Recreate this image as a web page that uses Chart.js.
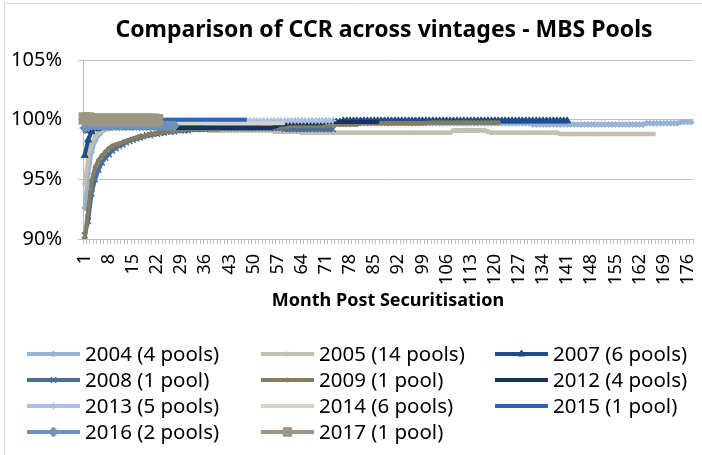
<!DOCTYPE html>
<html>
<head>
<meta charset="utf-8">
<script src="https://cdn.jsdelivr.net/npm/chart.js@4.4.1/dist/chart.umd.min.js"></script>
<style>
  body { margin: 0; background: #fff; }
  canvas { display: block; }
</style>
</head>
<body>
<canvas id="ccrChart" width="702" height="455"></canvas>
<script>
// month numbers on the category axis
var months = Array.from({ length: 177 }, function (_, i) { return String(i + 1); });

var seriesNames = ['2004 (4 pools)', '2005 (14 pools)', '2007 (6 pools)', '2008 (1 pool)', '2009 (1 pool)',
  '2012 (4 pools)', '2013 (5 pools)', '2014 (6 pools)', '2015 (1 pool)', '2016 (2 pools)', '2017 (1 pool)'];

// CCR in percent
var ccr2004 = [
  92.6, 95.5, 97.3, 98.2, 98.7, 99.0, 99.2, 99.3, 99.4, 99.4,
  99.5, 99.5, 99.5, 99.5, 99.5, 99.5, 99.6, 99.6, 99.6, 99.6,
  99.6, 99.6, 99.6, 99.6, 99.6, 99.6, 99.6, 99.6, 99.6, 99.6,
  99.7, 99.7, 99.7, 99.7, 99.7, 99.7, 99.7, 99.7, 99.7, 99.7,
  99.7, 99.7, 99.7, 99.7, 99.7, 99.7, 99.7, 99.7, 99.7, 99.7,
  99.7, 99.7, 99.7, 99.7, 99.7, 99.7, 99.7, 99.7, 99.7, 99.7,
  99.7, 99.7, 99.7, 99.7, 99.7, 99.7, 99.7, 99.7, 99.7, 99.7,
  99.7, 99.7, 99.7, 99.7, 99.7, 99.7, 99.7, 99.7, 99.7, 99.7,
  99.7, 99.7, 99.7, 99.7, 99.7, 99.7, 99.7, 99.7, 99.7, 99.7,
  99.7, 99.7, 99.7, 99.7, 99.7, 99.7, 99.7, 99.7, 99.7, 99.7,
  99.7, 99.7, 99.7, 99.7, 99.7, 99.7, 99.7, 99.7, 99.7, 99.7,
  99.7, 99.7, 99.7, 99.7, 99.7, 99.7, 99.7, 99.7, 99.7, 99.7,
  99.7, 99.7, 99.7, 99.7, 99.7, 99.7, 99.7, 99.7, 99.7, 99.7,
  99.6, 99.6, 99.6, 99.6, 99.6, 99.6, 99.6, 99.6, 99.6, 99.6,
  99.6, 99.6, 99.6, 99.6, 99.6, 99.6, 99.6, 99.6, 99.6, 99.6,
  99.6, 99.6, 99.6, 99.6, 99.6, 99.6, 99.6, 99.6, 99.6, 99.6,
  99.6, 99.6, 99.6, 99.7, 99.7, 99.7, 99.7, 99.7, 99.7, 99.7,
  99.7, 99.7, 99.7, 99.8, 99.8, 99.8, 99.8
];
var ccr2005 = [
  94.6, 96.8, 98.0, 98.6, 98.9, 99.1, 99.2, 99.2, 99.3, 99.3,
  99.3, 99.3, 99.3, 99.3, 99.3, 99.3, 99.3, 99.3, 99.3, 99.3,
  99.3, 99.3, 99.2, 99.2, 99.2, 99.2, 99.2, 99.2, 99.2, 99.2,
  99.2, 99.2, 99.2, 99.2, 99.2, 99.2, 99.1, 99.1, 99.1, 99.1,
  99.1, 99.1, 99.1, 99.1, 99.1, 99.1, 99.1, 99.1, 99.1, 99.1,
  99.1, 99.1, 99.1, 99.1, 99.1, 99.0, 99.0, 99.0, 99.0, 99.0,
  99.0, 99.0, 99.0, 98.9, 98.9, 98.9, 98.9, 98.9, 98.9, 98.9,
  98.9, 98.9, 98.9, 98.9, 98.9, 98.9, 98.9, 98.9, 98.9, 98.9,
  98.9, 98.9, 98.9, 98.9, 98.9, 98.9, 98.9, 98.9, 98.9, 98.9,
  98.9, 98.9, 98.9, 98.9, 98.9, 98.9, 98.9, 98.9, 98.9, 98.9,
  98.9, 98.9, 98.9, 98.9, 98.9, 98.9, 98.9, 99.1, 99.1, 99.1,
  99.1, 99.1, 99.1, 99.1, 99.1, 99.1, 99.1, 99.0, 98.9, 98.9,
  98.9, 98.9, 98.9, 98.9, 98.9, 98.9, 98.9, 98.9, 98.9, 98.9,
  98.9, 98.9, 98.9, 98.9, 98.9, 98.9, 98.9, 98.9, 98.8, 98.8,
  98.8, 98.8, 98.8, 98.8, 98.8, 98.8, 98.8, 98.8, 98.8, 98.8,
  98.8, 98.8, 98.8, 98.8, 98.8, 98.8, 98.8, 98.8, 98.8, 98.8,
  98.8, 98.8, 98.8, 98.8, 98.8, 98.8
];
var ccr2007 = [
  97.0, 98.3, 99.0, 99.3, 99.4, 99.5, 99.5, 99.5, 99.5, 99.5,
  99.5, 99.5, 99.5, 99.5, 99.5, 99.5, 99.5, 99.5, 99.5, 99.5,
  99.5, 99.5, 99.5, 99.5, 99.5, 99.6, 99.6, 99.6, 99.6, 99.6,
  99.6, 99.6, 99.6, 99.6, 99.6, 99.6, 99.6, 99.6, 99.6, 99.6,
  99.6, 99.6, 99.6, 99.6, 99.6, 99.6, 99.6, 99.6, 99.6, 99.6,
  99.6, 99.6, 99.7, 99.7, 99.7, 99.7, 99.7, 99.7, 99.7, 99.7,
  99.8, 99.8, 99.8, 99.8, 99.8, 99.8, 99.8, 99.8, 99.8, 99.8,
  99.8, 99.8, 99.8, 99.8, 99.8, 99.9, 99.9, 99.9, 99.9, 99.9,
  99.9, 99.9, 99.9, 99.9, 99.9, 99.9, 99.9, 99.9, 99.9, 99.9,
  99.9, 99.9, 99.9, 99.9, 99.9, 99.9, 99.9, 99.9, 99.9, 99.9,
  99.9, 99.9, 99.9, 99.9, 99.9, 99.9, 99.9, 99.9, 99.9, 99.9,
  99.9, 99.9, 99.9, 99.9, 99.9, 99.9, 99.9, 99.9, 99.9, 99.9,
  99.9, 99.9, 99.9, 99.9, 99.9, 99.9, 99.9, 99.9, 99.9, 99.9,
  99.9, 99.9, 99.9, 99.9, 99.9, 99.9, 99.9, 99.9, 99.9, 99.9,
  99.9
];
var ccr2008 = [
  90.3, 91.5, 93.8, 95.0, 95.8, 96.4, 96.8, 97.1, 97.4, 97.6,
  97.8, 97.9, 98.1, 98.2, 98.3, 98.4, 98.5, 98.6, 98.7, 98.7,
  98.8, 98.8, 98.9, 98.9, 99.0, 99.0, 99.0, 99.1, 99.1, 99.1,
  99.1, 99.2, 99.2, 99.2, 99.2, 99.2, 99.3, 99.3, 99.3, 99.3,
  99.3, 99.3, 99.3, 99.3, 99.3, 99.3, 99.3, 99.3, 99.3, 99.3,
  99.3, 99.3, 99.3, 99.3, 99.3, 99.3, 99.3, 99.3, 99.2, 99.2,
  99.2, 99.2, 99.2, 99.2, 99.2, 99.2, 99.2, 99.2, 99.2, 99.2,
  99.2, 99.2, 99.2
];
var ccr2009 = [
  90.0, 92.5, 94.9, 96.0, 96.6, 97.0, 97.3, 97.6, 97.8, 97.9,
  98.0, 98.1, 98.2, 98.3, 98.4, 98.5, 98.6, 98.6, 98.7, 98.8,
  98.8, 98.9, 98.9, 99.0, 99.0, 99.0, 99.1, 99.1, 99.1, 99.2,
  99.2, 99.2, 99.2, 99.2, 99.2, 99.2, 99.2, 99.2, 99.2, 99.2,
  99.3, 99.3, 99.3, 99.3, 99.3, 99.3, 99.3, 99.3, 99.3, 99.3,
  99.3, 99.3, 99.4, 99.4, 99.4, 99.4, 99.4, 99.4, 99.4, 99.4,
  99.5, 99.5, 99.5, 99.5, 99.5, 99.5, 99.5, 99.5, 99.5, 99.5,
  99.6, 99.6, 99.6, 99.6, 99.6, 99.6, 99.6, 99.6, 99.6, 99.6,
  99.7, 99.7, 99.7, 99.7, 99.7, 99.7, 99.7, 99.7, 99.7, 99.7,
  99.7, 99.7, 99.7, 99.7, 99.7, 99.7, 99.7, 99.7, 99.7, 99.7,
  99.75, 99.75, 99.75, 99.75, 99.75, 99.75, 99.75, 99.75, 99.75, 99.75,
  99.75, 99.75, 99.75, 99.75, 99.75, 99.75, 99.75, 99.75, 99.75, 99.75,
  99.75
];
var ccr2012 = [
  99.0, 99.1, 99.2, 99.2, 99.2, 99.3, 99.3, 99.3, 99.3, 99.3,
  99.3, 99.3, 99.3, 99.3, 99.3, 99.3, 99.3, 99.3, 99.3, 99.3,
  99.3, 99.3, 99.3, 99.3, 99.3, 99.3, 99.3, 99.3, 99.3, 99.3,
  99.3, 99.3, 99.3, 99.3, 99.3, 99.3, 99.3, 99.3, 99.3, 99.3,
  99.3, 99.3, 99.3, 99.3, 99.3, 99.3, 99.3, 99.3, 99.3, 99.3,
  99.3, 99.3, 99.3, 99.3, 99.3, 99.4, 99.5, 99.6, 99.6, 99.7,
  99.7, 99.7, 99.7, 99.7, 99.7, 99.7, 99.7, 99.7, 99.7, 99.7,
  99.8, 99.8, 99.8, 99.8, 99.8, 99.8, 99.8, 99.8, 99.8, 99.8,
  99.8, 99.8, 99.8, 99.8, 99.8, 99.8
];
var ccr2013 = [
  99.2, 99.7, 99.9, 99.9, 99.9, 99.9, 99.9, 99.9, 99.9, 99.9,
  99.9, 99.9, 99.9, 99.9, 99.9, 99.9, 99.9, 99.9, 99.9, 99.9,
  99.9, 99.9, 99.9, 99.9, 99.9, 99.9, 99.9, 99.9, 99.9, 99.9,
  99.9, 99.9, 99.9, 99.9, 99.9, 99.9, 99.9, 99.9, 99.9, 99.9,
  99.9, 99.9, 99.9, 99.9, 99.9, 99.9, 99.9, 99.9, 99.9, 99.9,
  99.9, 99.9, 99.9, 99.9, 99.9, 99.9, 99.9, 99.9, 99.9, 99.9,
  99.9, 99.9, 99.9, 99.9, 99.9, 99.9, 99.9, 99.9, 99.9, 99.9,
  99.9, 99.9, 99.9
];
var ccr2014 = [
  99.3, 99.5, 99.6, 99.6, 99.7, 99.7, 99.7, 99.7, 99.7, 99.7,
  99.7, 99.7, 99.7, 99.7, 99.7, 99.7, 99.7, 99.7, 99.7, 99.7,
  99.7, 99.7, 99.7, 99.7, 99.7, 99.7, 99.7, 99.7, 99.7, 99.7,
  99.7, 99.7, 99.7, 99.7, 99.7, 99.7, 99.7, 99.7, 99.7, 99.7,
  99.7, 99.7, 99.7, 99.7, 99.7, 99.7, 99.7, 99.7, 99.7, 99.7,
  99.7, 99.7, 99.7, 99.7, 99.7, 99.7, 99.7, 99.7, 99.7
];
var ccr2015 = [
  99.9, 100.0, 100.0, 100.0, 100.0, 100.0, 100.0, 100.0, 100.0, 100.0,
  100.0, 100.0, 100.0, 100.0, 100.0, 100.0, 100.0, 100.0, 100.0, 100.0,
  100.0, 100.0, 100.0, 100.0, 100.0, 100.0, 100.0, 100.0, 100.0, 100.0,
  100.0, 100.0, 100.0, 100.0, 100.0, 100.0, 100.0, 100.0, 100.0, 100.0,
  100.0, 100.0, 100.0, 100.0, 100.0, 100.0, 100.0, 100.0
];
var ccr2016 = [
  99.3, 99.4, 99.5, 99.5, 99.5, 99.5, 99.5, 99.5, 99.5, 99.5,
  99.5, 99.5, 99.5, 99.5, 99.5, 99.5, 99.5, 99.5, 99.5, 99.5,
  99.5, 99.5, 99.5, 99.5, 99.5, 99.5, 99.5
];
var ccr2017 = [
  100.1, 100.1, 100.0, 100.0, 100.0, 100.0, 100.0, 100.0, 100.0, 100.0,
  100.0, 100.0, 100.0, 100.0, 100.0, 100.0, 100.0, 100.0, 100.0, 100.0,
  100.0, 99.95
];

var seriesData = [ccr2004, ccr2005, ccr2007, ccr2008, ccr2009, ccr2012, ccr2013, ccr2014, ccr2015, ccr2016, ccr2017];
var yTicks = [90, 95, 100, 105];

var colors = ['#95B3D7', '#C4BFAF', '#1F4E8E', '#4A6F97', '#857C62', '#17335E',
  '#A9C3E1', '#D6D2C6', '#2E63B9', '#6B94BF', '#9C9682'];
var marks = [
  { style: 'rectRot', r: 3 }, { style: 'rect', r: 2.5 }, { style: 'triangle', r: 4 },
  { style: 'crossRot', r: 4 }, { style: 'circle', r: 2 }, { style: 'circle', r: 1.5 },
  { style: 'cross', r: 3.5 }, { style: false, r: 0 }, { style: false, r: 0 },
  { style: 'rectRot', r: 5 }, { style: 'rect', r: 8 }
];

var FONT = 'Noto Sans';

var datasets = seriesNames.map(function (name, i) {
  return {
    label: name,
    data: seriesData[i],
    borderColor: colors[i],
    backgroundColor: colors[i],
    borderWidth: 4,
    pointStyle: marks[i].style || 'circle',
    pointRadius: marks[i].r,
    pointBorderWidth: marks[i].style && marks[i].style.indexOf('cross') === 0 ? 1.5 : 1,
    pointHoverRadius: marks[i].r,
    tension: 0,
    order: -i
  };
});

// title, frame and 3-column legend like the Excel original
var decor = {
  id: 'decor',
  beforeDraw: function (chart) {
    var c = chart.ctx;
    c.save();
    c.fillStyle = '#fff';
    c.fillRect(0, 0, chart.width, chart.height);
    c.strokeStyle = '#D9D9D9';
    c.lineWidth = 1;
    c.beginPath();
    c.moveTo(4.5, chart.height);
    c.lineTo(4.5, 3.5);
    c.lineTo(chart.width, 3.5);
    c.stroke();
    c.restore();
  },
  afterDraw: function (chart) {
    var c = chart.ctx;
    c.save();
    c.fillStyle = '#000';
    c.font = 'bold 23px "' + FONT + '"';
    c.textAlign = 'center';
    c.textBaseline = 'middle';
    c.fillText('Comparison of CCR across vintages - MBS Pools', 384, 30);

    var colX = [27, 261, 495];
    var rowY = [354, 380, 406, 432];
    c.font = '20.5px "' + FONT + '"';
    c.textAlign = 'left';
    seriesNames.forEach(function (name, i) {
      var x = colX[i % 3], y = rowY[Math.floor(i / 3)];
      c.strokeStyle = colors[i];
      c.lineWidth = 4;
      c.beginPath();
      c.moveTo(x, y);
      c.lineTo(x + 53, y);
      c.stroke();
      if (marks[i].style && Chart.helpers && Chart.helpers.drawPoint) {
        c.fillStyle = colors[i];
        c.lineWidth = datasets[i].pointBorderWidth;
        Chart.helpers.drawPoint(c, { pointStyle: marks[i].style, radius: Math.min(marks[i].r, 6), rotation: 0, borderWidth: datasets[i].pointBorderWidth }, x + 26.5, y);
      }
      c.fillStyle = '#000';
      c.fillText(name, x + 58, y + 1);
    });
    c.restore();
  }
};

new Chart(document.getElementById('ccrChart'), {
  type: 'line',
  data: { labels: months, datasets: datasets },
  plugins: [decor],
  options: {
    responsive: false,
    animation: false,
    layout: { padding: { top: 60, right: 8, bottom: 143, left: 0 } },
    plugins: {
      legend: { display: false },
      title: { display: false },
      tooltip: { enabled: false }
    },
    scales: {
      x: {
        offset: true,
        grid: { drawOnChartArea: false, offset: true, color: '#BFBFBF', tickLength: 5 },
        border: { color: '#BFBFBF' },
        ticks: {
          autoSkip: false,
          maxRotation: 90,
          minRotation: 90,
          padding: 10,
          color: '#000',
          font: { family: FONT, size: 18 },
          callback: function (v, idx) { return idx % 7 === 0 ? months[idx] : ''; }
        },
        title: {
          display: true,
          text: 'Month Post Securitisation',
          color: '#000',
          font: { family: FONT, size: 18, weight: 'bold' },
          padding: { top: 0, bottom: 0 }
        },
        afterFit: function (s) { s.height = 73; s.paddingLeft = 0; s.paddingRight = 0; }
      },
      y: {
        min: yTicks[0],
        max: yTicks[yTicks.length - 1],
        grid: { color: '#BFBFBF', tickLength: 5 },
        border: { color: '#BFBFBF' },
        afterBuildTicks: function (s) { s.ticks = yTicks.map(function (v) { return { value: v }; }); },
        ticks: {
          color: '#000',
          padding: 16,
          font: { family: FONT, size: 20 },
          callback: function (v) { return v + '%'; }
        },
        afterFit: function (s) { s.width = 83; }
      }
    }
  }
});
</script>
</body>
</html>
